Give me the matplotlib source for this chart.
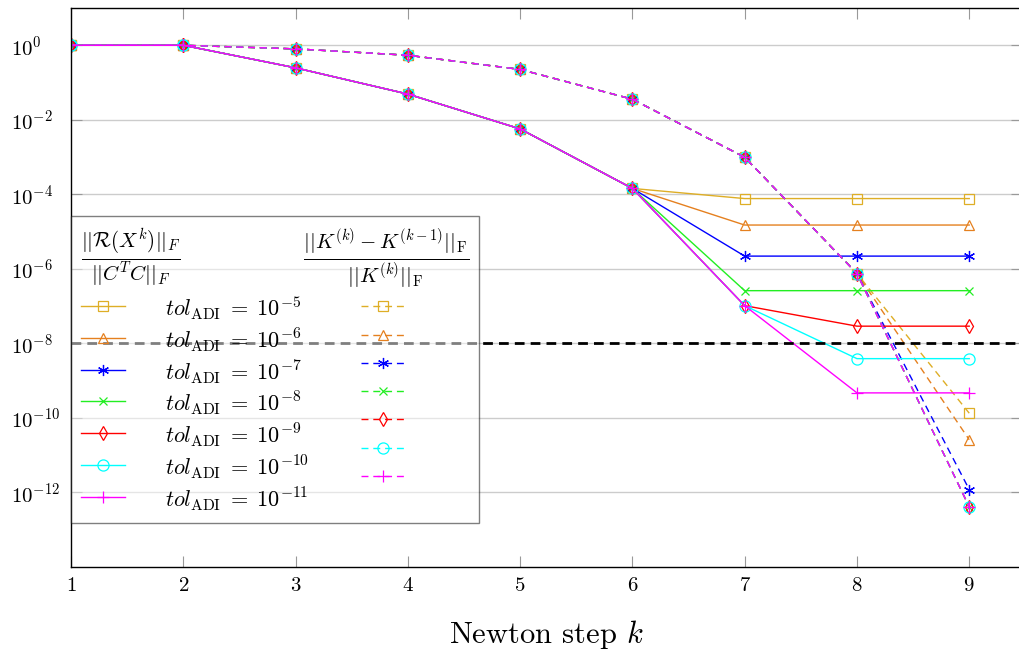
import matplotlib
matplotlib.use("Agg")
import matplotlib.pyplot as plt
import numpy as np

plt.rcParams.update({
    "font.family": "serif",
    "font.serif": ["cmr10"],
    "mathtext.fontset": "cm",
    "axes.formatter.use_mathtext": True,
})

steps = [1, 2, 3, 4, 5, 6, 7, 8, 9]
tol_exps = [5, 6, 7, 8, 9, 10, 11]

# relative residual ||R(X^k)||_F / ||C^T C||_F, one list per ADI tolerance
res_tol5 = [1.0, 1.0, 0.248, 0.049, 5.7e-3, 1.44e-4, 7.7e-5, 7.7e-5, 7.7e-5]
res_tol6 = [1.0, 1.0, 0.248, 0.049, 5.7e-3, 1.44e-4, 1.5e-5, 1.5e-5, 1.5e-5]
res_tol7 = [1.0, 1.0, 0.248, 0.049, 5.7e-3, 1.44e-4, 2.2e-6, 2.2e-6, 2.2e-6]
res_tol8 = [1.0, 1.0, 0.248, 0.049, 5.7e-3, 1.44e-4, 2.6e-7, 2.6e-7, 2.6e-7]
res_tol9 = [1.0, 1.0, 0.248, 0.049, 5.7e-3, 1.44e-4, 1.03e-7, 2.9e-8, 2.9e-8]
res_tol10 = [1.0, 1.0, 0.248, 0.049, 5.7e-3, 1.44e-4, 1.03e-7, 3.9e-9, 3.9e-9]
res_tol11 = [1.0, 1.0, 0.248, 0.049, 5.7e-3, 1.44e-4, 1.03e-7, 4.7e-10, 4.7e-10]

# relative Newton step change ||K^(k)-K^(k-1)||_F / ||K^(k)||_F
dk_tol5 = [1.0, 1.0, 0.80, 0.54, 0.225, 0.0356, 9.9e-4, 7.5e-7, 1.34e-10]
dk_tol6 = [1.0, 1.0, 0.80, 0.54, 0.225, 0.0356, 9.9e-4, 7.5e-7, 2.6e-11]
dk_tol7 = [1.0, 1.0, 0.80, 0.54, 0.225, 0.0356, 9.9e-4, 7.5e-7, 1.2e-12]
dk_tol8 = [1.0, 1.0, 0.80, 0.54, 0.225, 0.0356, 9.9e-4, 7.5e-7, 4.1e-13]
dk_tol9 = [1.0, 1.0, 0.80, 0.54, 0.225, 0.0356, 9.9e-4, 7.5e-7, 4.1e-13]
dk_tol10 = [1.0, 1.0, 0.80, 0.54, 0.225, 0.0356, 9.9e-4, 7.5e-7, 4.1e-13]
dk_tol11 = [1.0, 1.0, 0.80, 0.54, 0.225, 0.0356, 9.9e-4, 7.5e-7, 4.1e-13]

res_all = [res_tol5, res_tol6, res_tol7, res_tol8, res_tol9, res_tol10, res_tol11]
dk_all = [dk_tol5, dk_tol6, dk_tol7, dk_tol8, dk_tol9, dk_tol10, dk_tol11]
threshold = 1e-8

colors = ["#deae26", "#e5801f", "#0000ff", "#22ee22", "#ff0000", "#00ffff", "#ff00ff"]
markers = ["s", "^", (6, 2, 0), "x", "d", "o", "+"]
msizes = [7.5, 7.5, 8, 5.5, 7.5, 8, 8.5]

fig = plt.figure(figsize=(10.19, 6.53), dpi=100)
ax = fig.add_axes([71 / 1019, 1 - 567 / 653, 951 / 1019, 559 / 653])

solid_h = []
dash_h = []
for i in range(len(tol_exps)):
    c = colors[i]
    l1, = ax.plot(steps, res_all[i], color=c, lw=1.0, marker=markers[i],
                  ms=msizes[i], mfc="none", mec=c, mew=0.9)
    l2, = ax.plot(steps, dk_all[i], color=c, lw=1.0, ls=(0, (5, 3.5)),
                  marker=markers[i], ms=msizes[i], mfc="none", mec=c, mew=0.9)
    solid_h.append(l1)
    dash_h.append(l2)

ax.axhline(threshold, color="black", lw=2.0, ls=(0, (3.5, 2.2)), zorder=3)

ax.set_yscale("log")
ax.set_ylim(1e-14, 1e1)
ax.set_xlim(1, 9.47)
ax.set_xticks(steps)
ax.set_yticks([10.0 ** e for e in range(0, -13, -2)])
ax.yaxis.set_minor_locator(matplotlib.ticker.NullLocator())
ax.grid(axis="y", color="#cccccc", lw=1.0)
ax.tick_params(which="major", direction="in", length=8, width=0.8,
               color="#999999", labelsize=15, top=True, right=True)
ax.tick_params(axis="y", pad=43)
ax.tick_params(axis="x", pad=7)
for s in ax.spines.values():
    s.set_linewidth(1.0)

ax.set_xlabel("Newton step $k$", fontsize=22, labelpad=17)

labels = [r"$tol_{\mathrm{ADI}}\;=\;10^{-%d}$" % e for e in tol_exps] + [""] * 7
header = (r"$\frac{||\mathcal{R}(X^k)||_F}{||C^TC||_F}\hspace{4.65}"
          r"\frac{||K^{(k)}-K^{(k-1)}||_\mathrm{F}}{||K^{(k)}||_\mathrm{F}}$")
leg = ax.legend(solid_h + dash_h, labels, ncol=2, loc="upper left",
                bbox_to_anchor=(0, 0.628), borderaxespad=0, fontsize=16,
                title=header, title_fontsize=21.5, alignment="left",
                handlelength=2.0, handleheight=1.3, handletextpad=1.8,
                columnspacing=2.3, labelspacing=0.18, fancybox=False,
                framealpha=0.5, edgecolor="black", borderpad=0.45)
leg.get_frame().set_linewidth(1.0)

# pgfplots-style: y tick labels left-aligned on the "10"
fig.canvas.draw()
for t in ax.yaxis.get_major_ticks():
    t.label1.set_horizontalalignment("left")

fig.savefig("out.png", dpi=100)
